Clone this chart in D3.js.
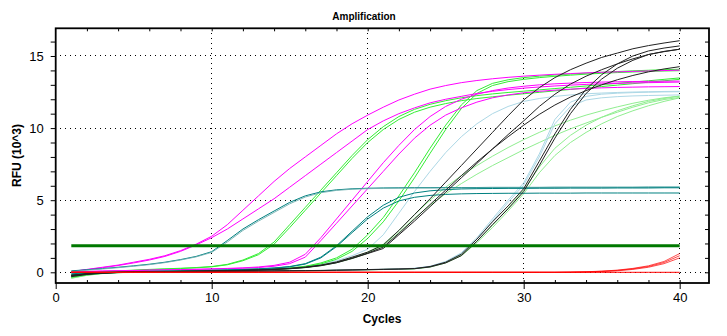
<!DOCTYPE html>
<html lang="en">
<head>
<meta charset="utf-8">
<title>Amplification</title>
<script src="https://cdn.jsdelivr.net/npm/d3@7"></script>
<style>
  body { margin: 0; background: #fff; }
  text { font-family: "Liberation Sans", Arial, sans-serif; fill: #000; }
  .tick text { font-size: 13px; }
  .tick line { stroke: #000; }
</style>
</head>
<body>
<script>
// cycle numbers (x values for every curve)
var cycles = [1,2,3,4,5,6,7,8,9,10,11,12,13,14,15,16,17,18,19,20,21,22,23,24,25,26,27,28,29,30,31,32,33,34,35,36,37,38,39,40];

var xLabelTicks = [0,10,20,30,40];
var xMinorTicks = [2,4,6,8,10,12,14,16,18,20,22,24,26,28,30,32,34,36,38,40];
var yLabelTicks = [0,5,10,15];
var yMinorTicks = [0,1,2,3,4,5,6,7,8,9,10,11,12,13,14,15,16];
var threshold = 1.84;

// RFU (10^3) per cycle
var magentaEarlyA = [0.05,0.20,0.35,0.50,0.70,0.90,1.15,1.50,1.95,2.50,3.30,4.30,5.30,6.30,7.20,8.00,8.80,9.60,10.30,10.90,11.45,11.95,12.35,12.70,12.95,13.15,13.30,13.42,13.52,13.60,13.67,13.73,13.78,13.83,13.87,13.90,13.93,13.96,13.99,14.02];
var magentaEarlyB = [0.05,0.18,0.32,0.47,0.65,0.85,1.10,1.45,1.90,2.40,3.00,3.70,4.40,5.10,5.90,6.70,7.50,8.30,9.10,9.90,10.50,11.00,11.40,11.75,12.00,12.20,12.40,12.55,12.67,12.77,12.85,12.92,12.98,13.03,13.07,13.10,13.13,13.15,13.17,13.19];
var magentaLateA = [0.00,0.05,0.08,0.10,0.12,0.14,0.16,0.18,0.20,0.22,0.25,0.28,0.33,0.42,0.60,1.05,2.20,3.40,4.60,5.80,7.00,8.20,9.30,10.20,10.90,11.40,11.80,12.10,12.30,12.45,12.55,12.63,12.70,12.75,12.79,12.82,12.84,12.86,12.87,12.88];
var magentaLateB = [0.02,0.06,0.09,0.11,0.13,0.15,0.17,0.19,0.21,0.24,0.27,0.31,0.37,0.48,0.70,1.25,2.40,3.70,5.00,6.30,7.60,8.80,9.90,10.80,11.50,12.00,12.35,12.60,12.78,12.90,13.00,13.07,13.12,13.16,13.19,13.21,13.23,13.24,13.25,13.26];

var tealEarlyA = [0.10,0.18,0.26,0.35,0.45,0.56,0.70,0.88,1.10,1.43,2.20,3.00,3.65,4.25,4.85,5.30,5.58,5.72,5.79,5.83,5.85,5.86,5.87,5.87,5.88,5.88,5.88,5.89,5.89,5.89,5.89,5.90,5.90,5.90,5.90,5.90,5.90,5.91,5.91,5.91];
var tealEarlyB = [0.05,0.14,0.23,0.32,0.42,0.53,0.67,0.85,1.07,1.38,2.10,2.90,3.55,4.15,4.75,5.22,5.52,5.68,5.76,5.80,5.82,5.83,5.84,5.84,5.85,5.85,5.85,5.86,5.86,5.86,5.86,5.86,5.87,5.87,5.87,5.87,5.87,5.87,5.88,5.88];
var tealLateA = [-0.10,-0.05,0.00,0.03,0.05,0.07,0.09,0.10,0.12,0.14,0.17,0.20,0.24,0.30,0.40,0.60,1.05,1.84,2.85,3.85,4.65,5.20,5.50,5.65,5.73,5.78,5.80,5.81,5.82,5.82,5.83,5.83,5.84,5.84,5.84,5.85,5.85,5.85,5.86,5.86];
var tealLateB = [-0.15,-0.08,-0.02,0.02,0.04,0.06,0.08,0.09,0.11,0.13,0.16,0.19,0.23,0.29,0.38,0.57,1.00,1.78,2.75,3.70,4.45,4.95,5.20,5.33,5.40,5.44,5.46,5.47,5.48,5.48,5.49,5.49,5.49,5.50,5.50,5.50,5.50,5.50,5.50,5.50];

var greenEarlyA = [-0.20,-0.05,0.05,0.10,0.15,0.20,0.24,0.28,0.33,0.40,0.55,0.85,1.30,2.10,3.30,4.50,5.70,6.90,8.10,9.20,10.10,10.80,11.30,11.65,11.90,12.10,12.25,12.37,12.47,12.56,12.65,12.74,12.83,12.92,13.01,13.10,13.19,13.28,13.38,13.48];
var greenEarlyB = [-0.30,-0.10,0.02,0.08,0.13,0.18,0.22,0.26,0.31,0.38,0.52,0.80,1.22,1.95,3.10,4.30,5.50,6.70,7.90,9.00,9.90,10.60,11.10,11.45,11.70,11.90,12.05,12.17,12.28,12.38,12.48,12.58,12.68,12.78,12.88,12.98,13.08,13.18,13.28,13.38];
var greenLateA = [-0.30,-0.15,-0.05,0.00,0.03,0.05,0.07,0.09,0.10,0.12,0.14,0.16,0.19,0.23,0.30,0.42,0.65,1.00,1.60,2.60,3.80,5.30,6.90,8.60,10.20,11.60,12.60,13.10,13.35,13.50,13.60,13.68,13.75,13.81,13.87,13.92,13.97,14.01,14.05,14.08];
var greenLateB = [-0.35,-0.18,-0.07,-0.01,0.02,0.04,0.06,0.08,0.09,0.11,0.13,0.15,0.18,0.22,0.28,0.39,0.58,0.90,1.45,2.35,3.50,4.95,6.55,8.25,9.90,11.35,12.40,12.95,13.22,13.38,13.50,13.59,13.67,13.74,13.80,13.85,13.89,13.93,13.96,13.98];

var lightBlueEarly = [-0.20,-0.10,-0.03,0.00,0.02,0.04,0.06,0.07,0.09,0.11,0.13,0.16,0.19,0.24,0.30,0.40,0.55,0.80,1.15,1.60,2.60,4.10,5.60,7.00,8.30,9.40,10.30,11.00,11.50,11.85,12.05,12.20,12.30,12.38,12.43,12.47,12.50,12.52,12.54,12.55];
var lightBlueLateA = [-0.28,-0.14,-0.06,-0.01,0.01,0.02,0.03,0.04,0.05,0.06,0.07,0.08,0.09,0.10,0.11,0.12,0.13,0.15,0.17,0.19,0.21,0.24,0.28,0.42,0.75,1.35,2.40,3.70,5.00,6.20,8.20,10.60,11.80,12.20,12.35,12.42,12.46,12.49,12.51,12.52];
var lightBlueLateB = [-0.32,-0.16,-0.07,-0.02,0.00,0.01,0.02,0.03,0.04,0.05,0.06,0.07,0.08,0.09,0.10,0.11,0.12,0.14,0.16,0.18,0.20,0.23,0.27,0.40,0.72,1.30,2.30,3.55,4.85,6.05,8.00,10.30,11.50,11.95,12.10,12.18,12.23,12.26,12.28,12.30];

var lightGreenEarlyA = [-0.25,-0.12,-0.05,-0.01,0.01,0.03,0.04,0.05,0.06,0.08,0.10,0.12,0.15,0.19,0.25,0.34,0.48,0.70,1.00,1.40,1.95,2.90,4.00,5.00,5.90,6.70,7.40,8.05,8.65,9.20,9.70,10.15,10.55,10.90,11.20,11.47,11.72,11.93,12.10,12.22];
var lightGreenEarlyB = [-0.35,-0.17,-0.07,-0.02,0.00,0.02,0.03,0.04,0.05,0.07,0.09,0.11,0.14,0.18,0.24,0.32,0.45,0.66,0.95,1.32,1.85,2.75,3.75,4.65,5.45,6.15,6.80,7.40,7.95,8.50,9.00,9.50,9.95,10.35,10.75,11.10,11.45,11.75,11.98,12.13];
var lightGreenLateA = [-0.40,-0.20,-0.08,-0.02,0.00,0.01,0.02,0.03,0.04,0.05,0.06,0.07,0.08,0.09,0.10,0.11,0.12,0.14,0.16,0.18,0.20,0.22,0.25,0.38,0.68,1.20,2.15,3.25,4.45,5.70,7.30,8.60,9.50,10.20,10.75,11.20,11.55,11.85,12.05,12.22];
var lightGreenLateB = [-0.42,-0.21,-0.09,-0.03,-0.01,0.00,0.01,0.02,0.03,0.04,0.05,0.06,0.07,0.08,0.09,0.10,0.11,0.13,0.15,0.17,0.19,0.21,0.24,0.36,0.65,1.15,2.05,3.10,4.25,5.45,6.90,8.10,9.00,9.70,10.30,10.80,11.20,11.55,11.85,12.10];

var blackEarlyA = [-0.20,-0.10,-0.04,0.00,0.02,0.04,0.05,0.07,0.08,0.10,0.12,0.14,0.17,0.21,0.27,0.36,0.50,0.72,1.05,1.40,1.90,2.90,4.00,5.10,6.25,7.40,8.55,9.70,10.85,11.95,12.80,13.50,14.05,14.50,14.90,15.20,15.50,15.72,15.90,16.06];
var blackEarlyB = [-0.25,-0.12,-0.05,-0.01,0.01,0.03,0.04,0.06,0.07,0.09,0.11,0.13,0.16,0.20,0.25,0.33,0.46,0.66,0.96,1.30,1.65,2.60,3.55,4.55,5.55,6.55,7.55,8.55,9.55,10.50,11.50,12.35,13.05,13.60,14.05,14.45,14.80,15.10,15.30,15.47];
var blackEarlyC = [-0.22,-0.11,-0.04,0.00,0.02,0.03,0.05,0.06,0.08,0.09,0.11,0.13,0.16,0.20,0.26,0.34,0.48,0.68,0.98,1.33,1.75,2.70,3.70,4.70,5.70,6.70,7.65,8.55,9.40,10.20,10.95,11.60,12.15,12.60,13.00,13.35,13.65,13.90,14.10,14.26];
var blackLateA = [-0.25,-0.12,-0.05,-0.01,0.01,0.02,0.03,0.04,0.05,0.06,0.07,0.08,0.09,0.10,0.11,0.12,0.13,0.15,0.17,0.19,0.21,0.23,0.26,0.40,0.70,1.25,2.30,3.50,4.60,5.80,7.70,9.60,11.30,12.70,13.70,14.45,15.00,15.35,15.55,15.70];
var blackLateB = [-0.30,-0.15,-0.07,-0.02,0.00,0.01,0.02,0.03,0.04,0.05,0.06,0.07,0.08,0.09,0.10,0.11,0.12,0.14,0.16,0.18,0.20,0.22,0.25,0.37,0.65,1.15,2.15,3.30,4.40,5.60,7.40,9.30,11.00,12.40,13.40,14.15,14.70,15.10,15.32,15.47];

var redRisingA = [0.02,0.01,0.00,0.00,0.00,0.00,0.00,0.00,0.00,0.00,0.00,0.00,0.00,0.00,0.00,0.00,0.00,0.00,0.00,0.00,0.00,0.00,0.00,0.00,0.00,0.00,0.00,0.00,0.00,0.00,0.00,0.00,0.02,0.04,0.08,0.15,0.27,0.45,0.75,1.30];
var redRisingB = [0.01,0.00,0.00,0.00,0.00,0.00,0.00,0.00,0.00,0.00,0.00,0.00,0.00,0.00,0.00,0.00,0.00,0.00,0.00,0.00,0.00,0.00,0.00,0.00,0.00,0.00,0.00,0.00,0.00,0.00,0.00,0.00,0.01,0.03,0.07,0.13,0.24,0.40,0.68,1.15];
var redRisingC = [0.00,0.00,0.00,0.00,0.00,0.00,0.00,0.00,0.00,0.00,0.00,0.00,0.00,0.00,0.00,0.00,0.00,0.00,0.00,0.00,0.00,0.00,0.00,0.00,0.00,0.00,0.00,0.00,0.00,0.00,0.00,0.00,0.00,0.02,0.05,0.10,0.20,0.35,0.60,1.00];
var redFlat = [0.00,0.00,0.00,0.00,0.00,0.00,0.00,0.00,0.00,0.00,0.00,0.00,0.00,0.00,0.00,0.00,0.00,0.00,0.00,0.00,0.00,0.00,0.00,0.00,0.00,0.00,0.00,0.00,0.00,0.00,0.00,0.00,0.00,0.00,0.00,0.00,0.00,0.00,0.00,0.00];

// drawing order: lightest first, red last
var curves = [
  { v: lightGreenEarlyA, c: "#90ee90", o: 1 },
  { v: lightGreenEarlyB, c: "#90ee90", o: 1 },
  { v: lightGreenLateA, c: "#90ee90", o: 1 },
  { v: lightGreenLateB, c: "#90ee90", o: 1 },
  { v: lightBlueEarly, c: "#add8e6", o: 1 },
  { v: lightBlueLateA, c: "#add8e6", o: 1 },
  { v: lightBlueLateB, c: "#add8e6", o: 1 },
  { v: greenEarlyA, c: "#33ee33", o: 1 },
  { v: greenEarlyB, c: "#33ee33", o: 1 },
  { v: greenLateA, c: "#33ee33", o: 1 },
  { v: greenLateB, c: "#33ee33", o: 1 },
  { v: magentaEarlyA, c: "#ff00ff", o: 1 },
  { v: magentaEarlyB, c: "#ff00ff", o: 1 },
  { v: magentaLateA, c: "#ff00ff", o: 1 },
  { v: magentaLateB, c: "#ff00ff", o: 1 },
  { v: tealEarlyA, c: "#008080", o: 1 },
  { v: tealEarlyB, c: "#6fb0b0", o: 0.9 },
  { v: tealLateA, c: "#008080", o: 1 },
  { v: tealLateB, c: "#008080", o: 1 },
  { v: blackEarlyA, c: "#222", o: 1 },
  { v: blackEarlyB, c: "#222", o: 1 },
  { v: blackEarlyC, c: "#222", o: 1 },
  { v: blackLateA, c: "#222", o: 1 },
  { v: blackLateB, c: "#222", o: 1 },
  { v: redRisingA, c: "#ff0000", o: 0.7 },
  { v: redRisingB, c: "#ff0000", o: 0.7 },
  { v: redRisingC, c: "#ff0000", o: 0.7 },
  { v: redFlat, c: "#ff0000", o: 1 }
];

var totalWidth = 727, totalHeight = 336;
var margin = { top: 28, left: 55 };
var width = 654, height = 255;

var svg = d3.select("body").append("svg")
  .attr("width", totalWidth)
  .attr("height", totalHeight);

var x = d3.scaleLinear().domain([0, 41.88]).range([0.7, width]);
var y = d3.scaleLinear().domain([-0.742, 16.92]).range([height, 0.3]);

var g = svg.append("g").attr("transform", "translate(" + margin.left + "," + margin.top + ")");

// dotted grid at the labelled ticks
g.selectAll(".vgrid")
  .data(xLabelTicks.filter(function(d) { return d > 0; }))
  .join("line")
  .attr("class", "vgrid")
  .attr("x1", function(d) { return Math.floor(x(d)) + 0.5; })
  .attr("x2", function(d) { return Math.floor(x(d)) + 0.5; })
  .attr("y1", 0).attr("y2", height)
  .attr("stroke", "#000").attr("stroke-dasharray", "1,4");

g.selectAll(".hgrid")
  .data(yLabelTicks)
  .join("line")
  .attr("class", "hgrid")
  .attr("y1", function(d) { return Math.floor(y(d)) + 0.5; })
  .attr("y2", function(d) { return Math.floor(y(d)) + 0.5; })
  .attr("x1", 0).attr("x2", width)
  .attr("stroke", "#000").attr("stroke-dasharray", "1,4");

// curves
var line = d3.line()
  .x(function(d, i) { return x(cycles[i]); })
  .y(function(d) { return y(d); });

g.selectAll(".curve")
  .data(curves)
  .join("path")
  .attr("class", "curve")
  .attr("d", function(d) { return line(d.v); })
  .attr("fill", "none")
  .attr("stroke", function(d) { return d.c; })
  .attr("stroke-opacity", function(d) { return d.o; })
  .attr("stroke-width", 1);

// threshold
g.append("line")
  .attr("x1", x(cycles[0])).attr("x2", x(cycles[cycles.length - 1]))
  .attr("y1", y(threshold)).attr("y2", y(threshold))
  .attr("stroke", "#007800").attr("stroke-width", 3);

// frame
g.append("rect")
  .attr("x", 0.7).attr("y", 0.3)
  .attr("width", width - 0.7).attr("height", height - 0.3)
  .attr("fill", "none").attr("stroke", "#000").attr("stroke-width", 1.8);

// bottom axis: labels + outward ticks, plus inner minor ticks
g.append("g")
  .attr("transform", "translate(0," + height + ")")
  .call(d3.axisBottom(x).tickValues(xLabelTicks).tickSize(6).tickPadding(4).tickSizeOuter(0))
  .call(function(a) { a.select(".domain").remove(); });
g.append("g")
  .attr("transform", "translate(0," + height + ")")
  .call(d3.axisTop(x).tickValues(xMinorTicks).tickSize(3).tickFormat("").tickSizeOuter(0))
  .call(function(a) { a.select(".domain").remove(); });
// top axis ticks
g.append("g")
  .attr("transform", "translate(0,0.3)")
  .call(d3.axisBottom(x).tickValues(xMinorTicks).tickSize(3).tickFormat("").tickSizeOuter(0))
  .call(function(a) { a.select(".domain").remove(); });

// left axis
g.append("g")
  .attr("transform", "translate(0.7,0)")
  .call(d3.axisLeft(y).tickValues(yMinorTicks).tickSize(5).tickPadding(7).tickSizeOuter(0)
    .tickFormat(function(d) { return yLabelTicks.indexOf(d) >= 0 ? d : ""; }))
  .call(function(a) { a.select(".domain").remove(); });
// right axis ticks (inside)
g.append("g")
  .attr("transform", "translate(" + width + ",0)")
  .call(d3.axisLeft(y).tickValues(yMinorTicks).tickSize(4).tickFormat("").tickSizeOuter(0))
  .call(function(a) { a.select(".domain").remove(); });

// titles
svg.append("text")
  .attr("x", 364).attr("y", 20)
  .attr("text-anchor", "middle")
  .style("font-size", "10px").style("font-weight", "bold")
  .text("Amplification");

svg.append("text")
  .attr("x", 382).attr("y", 323)
  .attr("text-anchor", "middle")
  .style("font-size", "12px").style("font-weight", "bold")
  .text("Cycles");

svg.append("text")
  .attr("transform", "translate(20.5,155.5) rotate(-90)")
  .attr("text-anchor", "middle")
  .style("font-size", "12px").style("font-weight", "bold")
  .text("RFU (10^3)");
</script>
</body>
</html>
